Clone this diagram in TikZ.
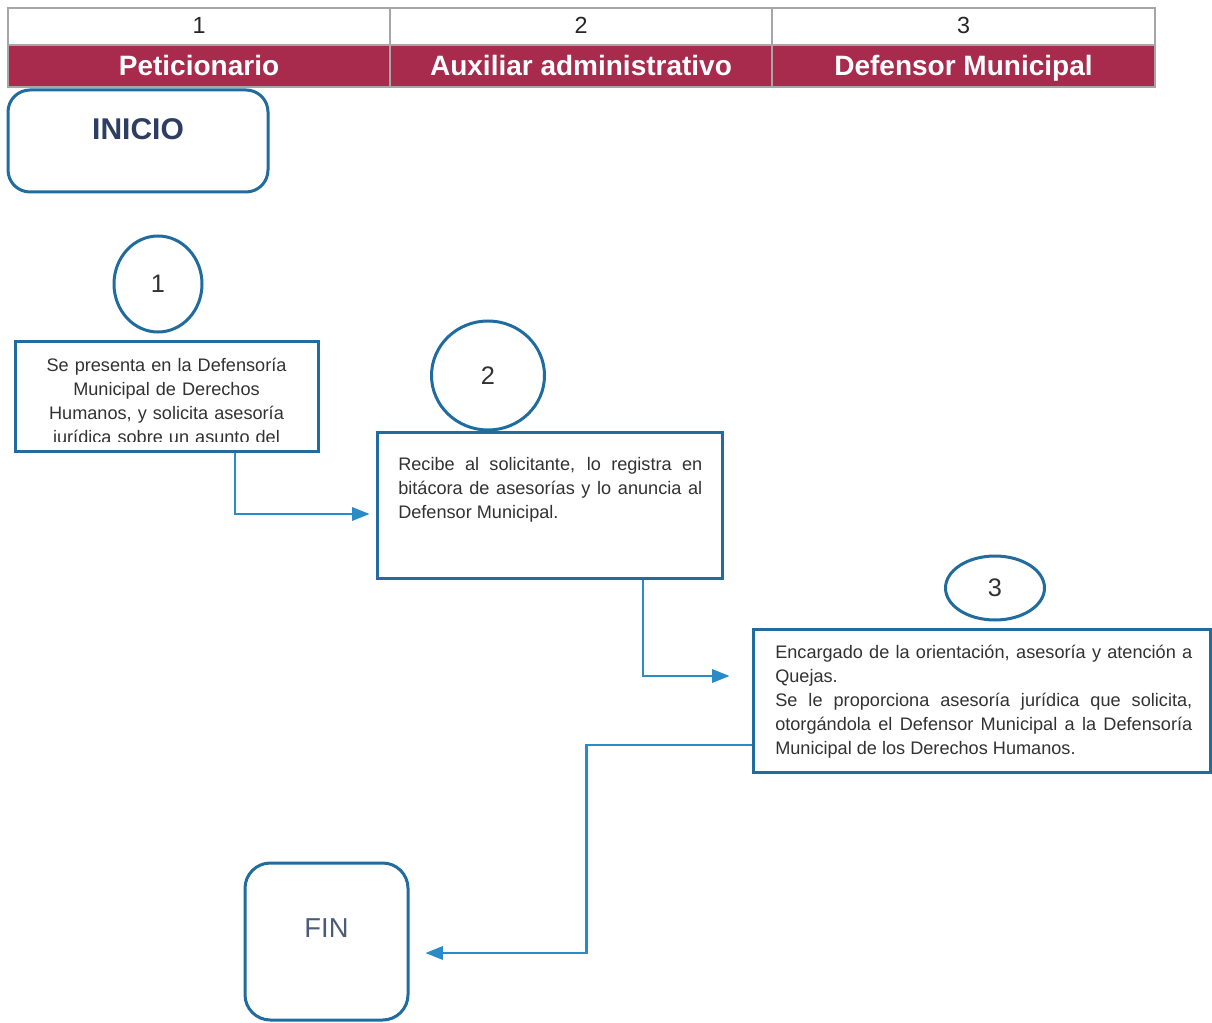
\documentclass[tikz,border=0pt]{standalone}
\usepackage{fontspec}
\setmainfont{Liberation Sans}
\usetikzlibrary{arrows.meta,calc,shapes.geometric}
\definecolor{hdrred}{RGB}{168,42,76}
\definecolor{boxblue}{RGB}{32,108,158}
\definecolor{arrblue}{RGB}{42,140,198}
\definecolor{txtgray}{RGB}{50,50,50}
\definecolor{navy}{RGB}{45,62,98}
\begin{document}
\begin{tikzpicture}[x=0.75pt,y=-0.75pt,
  box/.style={draw=boxblue,line width=2.25pt,inner sep=0pt,rectangle},
  rbox/.style={draw=boxblue,line width=2.25pt,rounded corners=16.5pt,inner sep=0pt,rectangle},
  stepnum/.style={draw=boxblue,line width=2.25pt,ellipse,inner sep=0pt,font=\fontsize{19}{19}\selectfont,text=txtgray},
  body/.style={text=txtgray,font=\fontsize{13.6}{18}\selectfont,inner sep=0pt},
  arr/.style={draw=arrblue,line width=1.6pt,-{Triangle[length=13pt,width=10pt]}},
  hdr/.style={font=\bfseries\fontsize{21}{21}\selectfont,text=white,inner sep=0pt,anchor=base},
  num/.style={font=\fontsize{17.5}{17.5}\selectfont,text=black!85,inner sep=0pt,anchor=base}]
\useasboundingbox (0,0) rectangle (1212,1023);
\fill[white] (0,0) rectangle (1212,1023);

% header table
\fill[hdrred] (8,45) rectangle (1155,87);
\draw[gray!70,line width=0.9pt] (8,8) rectangle (1155,87) (8,45) -- (1155,45)
  (390,8) -- (390,87) (772,8) -- (772,87);
\node[num] (n1) at (199,33.5) {1};
\node[num] (n2) at (581,33.5) {2};
\node[num] (n3) at (963.5,33.5) {3};
\node[hdr] (h1) at (199,76) {Peticionario};
\node[hdr] (h2) at (581,76) {Auxiliar administrativo};
\node[hdr] (h3) at (963.5,76) {Defensor Municipal};

% start / end
\node[rbox,minimum width=195pt,minimum height=76.5pt] (inicio) at (138,141) {};
\node[font=\bfseries\fontsize{22.5}{22.5}\selectfont,text=navy,inner sep=0pt] (tinicio) at (138,129) {INICIO};
\node[rbox,rounded corners=19pt,minimum width=122.25pt,minimum height=117.75pt] (fin) at (326.5,941.5) {};
\node[font=\fontsize{20.5}{20.5}\selectfont,text=navy!85,inner sep=0pt] (tfin) at (326.5,928) {FIN};

% step circles
\node[stepnum,minimum width=66pt,minimum height=72pt] (c1) at (158,284) {1};
\node[stepnum,minimum width=84.75pt,minimum height=81.75pt] (c2) at (488,375.5) {2};
\node[stepnum,minimum width=74.25pt,minimum height=48pt] (c3) at (995,588) {3};

% boxes
\node[box,minimum width=227.25pt,minimum height=82.5pt] (b1) at (166.5,396) {};
\node[box,minimum width=258.75pt,minimum height=109.5pt] (b2) at (549.5,505) {};
\node[box,minimum width=342.75pt,minimum height=107.25pt] (b3) at (981.5,700.5) {};

\begin{scope}
  \clip (17,343) rectangle (316,441);
  \node[body,align=center,text width=225pt,anchor=north] (t1) at (166.5,358)
    {Se presenta en la Defensoría\\ Municipal de Derechos\\ Humanos, y solicita asesoría\\ jurídica sobre un asunto del};
\end{scope}
\node[body,align=justify,text width=228pt,anchor=north west] (t2) at (398,457)
  {Recibe al solicitante, lo registra en\linebreak bitácora de asesorías y lo anuncia al\linebreak Defensor Municipal.};
\node[body,align=justify,text width=312.75pt,anchor=north west] (t3) at (775,645)
  {Encargado de la orientación, asesoría y atención a\linebreak Quejas.\\ Se le proporciona asesoría jurídica que solicita,\linebreak otorgándola el Defensor Municipal a la Defensoría\linebreak Municipal de los Derechos Humanos.};

% connectors
\draw[arr] ($(b1.south)+(68.5,0)$) |- ($(b2.west)+(-6,9)$);
\draw[arr] ($(b2.south)+(93.5,0)$) |- ($(b3.west)+(-22,-24.5)$);
\draw[arr] ($(b3.west)+(0,44.5)$) -- ++(-165,0) |- ($(fin.east)+(16,11.5)$);
\end{tikzpicture}
\end{document}
